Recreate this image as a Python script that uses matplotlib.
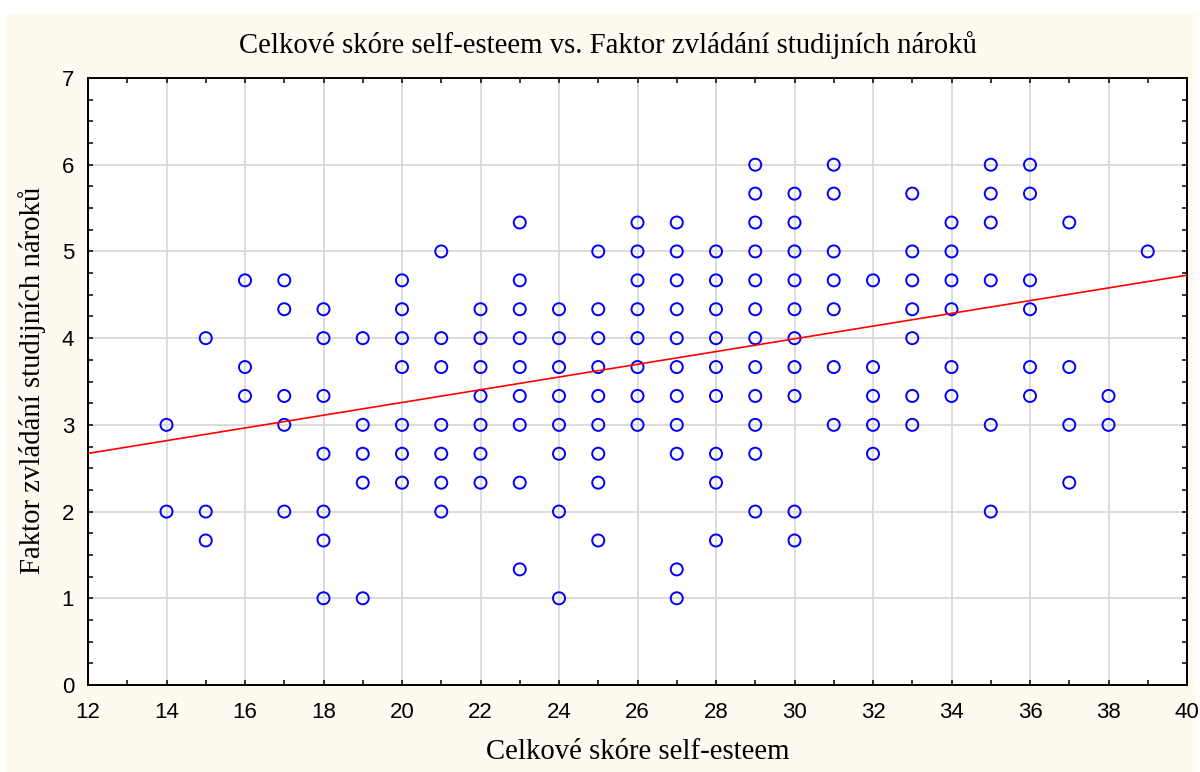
"""Scatter: self-esteem total score vs. study-demands coping factor."""
import numpy as np
import matplotlib
matplotlib.use("Agg")
from matplotlib import pyplot as plt
from matplotlib.patches import Rectangle
from matplotlib.ticker import MultipleLocator

# y values per x column (factor scores are thirds)
columns = {
    14: [9, 6],
    15: [12, 6, 5],
    16: [14, 11, 10],
    17: [14, 13, 10, 9, 6],
    18: [13, 12, 10, 8, 6, 5, 3],
    19: [12, 9, 8, 7, 3],
    20: [14, 13, 12, 11, 9, 8, 7],
    21: [15, 12, 11, 9, 8, 7, 6],
    22: [13, 12, 11, 10, 9, 8, 7],
    23: [16, 14, 13, 12, 11, 10, 9, 7, 4],
    24: [13, 12, 11, 10, 9, 8, 6, 3],
    25: [15, 13, 12, 11, 10, 9, 8, 7, 5],
    26: [16, 15, 14, 13, 12, 11, 10, 9],
    27: [16, 15, 14, 13, 12, 11, 10, 9, 8, 4, 3],
    28: [15, 14, 13, 12, 11, 10, 8, 7, 5],
    29: [18, 17, 16, 15, 14, 13, 12, 11, 10, 9, 8, 6],
    30: [17, 16, 15, 14, 13, 12, 11, 10, 6, 5],
    31: [18, 17, 15, 14, 13, 11, 9],
    32: [14, 11, 10, 9, 8],
    33: [17, 15, 14, 13, 12, 10, 9],
    34: [16, 15, 14, 13, 11, 10],
    35: [18, 17, 16, 14, 9, 6],
    36: [18, 17, 14, 13, 11, 10],
    37: [16, 11, 9, 7],
    38: [10, 9],
    39: [15],
}
self_esteem = np.array([x for x, ys in columns.items() for _ in ys], dtype=float)
coping = np.array([y / 3 for ys in columns.values() for y in ys])

# fitted line as printed on the chart
fit_intercept = 1.79
fit_slope = 0.0734

title = "Celkové skóre self-esteem vs. Faktor zvládání studijních nároků"
xlabel = "Celkové skóre self-esteem"
ylabel = "Faktor zvládání studijních nároků"

fig = plt.figure(figsize=(12, 7.72), dpi=100, facecolor="white")
fig.patches.append(Rectangle((6 / 1200, 0), 1190 / 1200, 758 / 772,
                             transform=fig.transFigure, facecolor="#fefaf0",
                             edgecolor="none", zorder=-10))

ax = fig.add_axes([88 / 1200, 87 / 772, 1099 / 1200, 607 / 772], zorder=2)
ax.set_facecolor("white")

ax.scatter(self_esteem, coping, s=75, facecolors="none", edgecolors="#0000ff",
           linewidths=1.4, zorder=3, clip_on=False)

xs = np.array([12, 40])
ax.plot(xs, fit_intercept + fit_slope * xs, color="#ff0000", lw=1.2, zorder=4)

ax.set_xlim(12, 40)
ax.set_ylim(0, 7)
ax.xaxis.set_major_locator(MultipleLocator(2))
ax.xaxis.set_minor_locator(MultipleLocator(1))
ax.yaxis.set_major_locator(MultipleLocator(1))
ax.yaxis.set_minor_locator(MultipleLocator(0.25))
ax.grid(True, which="major", color="#d9d9d9", lw=1.3, zorder=0)
ax.set_axisbelow(True)

ax.tick_params(which="both", direction="in", top=True, right=True,
               length=3.5, width=1.1, color="black")
ax.tick_params(which="major", labelsize=16)
ax.tick_params(axis="x", which="major", pad=12)
ax.tick_params(axis="y", which="major", pad=10)
for lab in ax.get_xticklabels() + ax.get_yticklabels():
    lab.set_family("Liberation Sans")
for sp in ax.spines.values():
    sp.set_linewidth(1.4)

serif = "Liberation Serif"
fig.text(608 / 1200, 1 - 45 / 772, title, ha="center", va="center",
         family=serif, fontsize=20.7)
fig.text(638 / 1200, 1 - 752 / 772, xlabel, ha="center", va="center",
         family=serif, fontsize=20.7)
fig.text(32 / 1200, 1 - 380 / 772, ylabel, ha="center", va="center",
         family=serif, fontsize=20.7, rotation=90)

fig.savefig("out.png", dpi=100)
